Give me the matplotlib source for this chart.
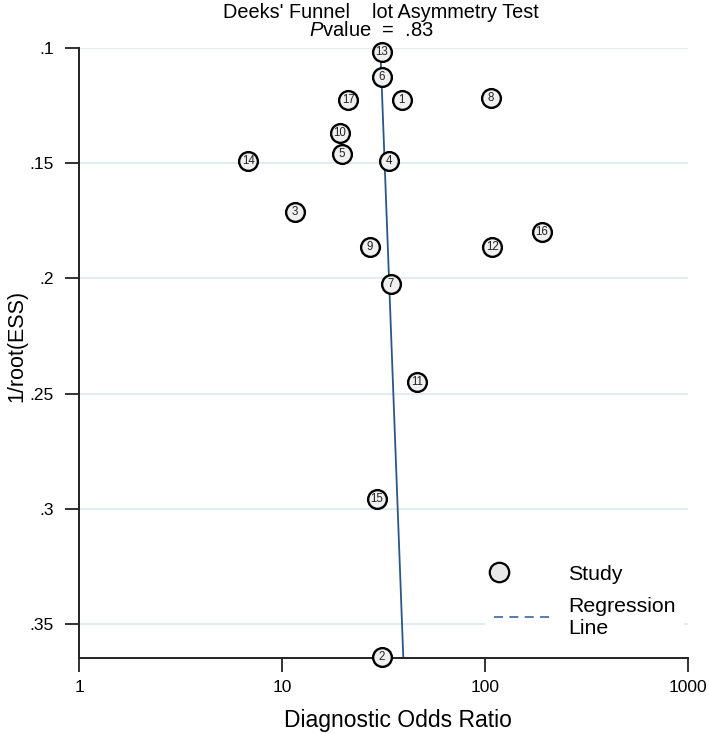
import numpy as np
import matplotlib
matplotlib.use("Agg")
import matplotlib.pyplot as plt
from matplotlib.lines import Line2D
from matplotlib.legend_handler import HandlerLine2D
from matplotlib.ticker import FixedLocator, FixedFormatter

plt.rcParams['font.family'] = ['Liberation Sans', 'DejaVu Sans']
plt.rcParams['mathtext.fontset'] = 'custom'
plt.rcParams['mathtext.rm'] = 'Liberation Sans'
plt.rcParams['mathtext.it'] = 'Liberation Sans:italic'

# study data
study_ids = [1, 2, 3, 4, 5, 6, 7, 8, 9, 10, 11, 12, 13, 14, 15, 16, 17]
dor = [38.9, 31.0, 11.6, 33.8, 19.7, 31.0, 34.3, 106.7, 27.1, 19.2,
       46.1, 108.6, 31.0, 6.82, 29.3, 190.0, 21.2]
inv_root_ess = [0.1225, 0.3644, 0.171, 0.1489, 0.146, 0.1124, 0.2025, 0.1218,
                0.1862, 0.137, 0.2451, 0.1862, 0.1016, 0.149, 0.2957, 0.1797,
                0.1225]

# regression: ln(DOR) = a + b * 1/root(ESS)
reg_a = 3.319
reg_b = 0.986
p_value = ".83"

xticks = [1, 10, 100, 1000]
xtick_labels = ["1", "10", "100", "1000"]
yticks = [0.1, 0.15, 0.2, 0.25, 0.3, 0.35]
ytick_labels = [".1", ".15", ".2", ".25", ".3", ".35"]


class LeftMarker(HandlerLine2D):
    """ marker drawn near left end of handle, like the stata legend """
    def get_xdata(self, legend, xdescent, ydescent, width, height, fontsize):
        xm = -xdescent + 0.1 * width
        return np.array([xm - 1, xm + 1]), np.array([xm])


W, H = 709, 734
fig = plt.figure(figsize=(W / 100, H / 100), dpi=100)
ax = fig.add_axes([79 / W, 1 - 658 / H, (688 - 79) / W, (658 - 48) / H])

ax.set_xscale('log')
ax.set_xlim(1, 1000)
ax.set_ylim(0.3647, 0.1)

yy = np.linspace(min(inv_root_ess), max(inv_root_ess), 50)
ax.plot(np.exp(reg_a + reg_b * yy), yy, color='#2a5788', lw=1.3, zorder=2)

ax.plot(dor, inv_root_ess, 'o', ms=13.5, mfc='#f0f0f0', mec='black', mew=1.7,
        ls='none', zorder=3, clip_on=False)
for sid, x, y in zip(study_ids, dor, inv_root_ess):
    ax.text(x, y, str(sid), ha='center', va='center', fontsize=8.3,
            color='#222222', zorder=4, clip_on=False)

ax.xaxis.set_major_locator(FixedLocator(xticks))
ax.xaxis.set_major_formatter(FixedFormatter(xtick_labels))
ax.xaxis.set_minor_locator(FixedLocator([]))
ax.yaxis.set_major_locator(FixedLocator(yticks))
ax.yaxis.set_major_formatter(FixedFormatter(ytick_labels))

ax.tick_params(axis='both', direction='out', length=10, width=1.3,
               labelsize=12.5, color='#222222')
ax.tick_params(axis='x', pad=6)
ax.tick_params(axis='y', pad=8)

for s in ['top', 'right']:
    ax.spines[s].set_visible(False)
for s in ['left', 'bottom']:
    ax.spines[s].set_linewidth(1.4)
    ax.spines[s].set_color('#222222')

ax.yaxis.grid(True, color='#e2ebee', lw=1.5)
ax.set_axisbelow(True)

fig.text(381 / W, 1 - 12 / H, "Deeks' Funnel    lot Asymmetry Test",
         ha='center', va='center', fontsize=14.3)
fig.text(371 / W, 1 - 30 / H, r"$P$value  =  " + p_value,
         ha='center', va='center', fontsize=14.5)
fig.text(398 / W, 1 - 720 / H, "Diagnostic Odds Ratio",
         ha='center', va='center', fontsize=16.5)
fig.text(17 / W, 1 - 346 / H, "1/root(ESS)", rotation=90,
         ha='center', va='center', fontsize=15.5)

h_study = Line2D([], [], ls='none', marker='o', ms=14, mfc='#e8e8e8',
                 mec='black', mew=1.6)
h_reg = Line2D([], [], ls=(0, (5, 3.5)), color='#4a72a8', lw=1.3)
leg = fig.legend([h_study, h_reg], ["Study", "Regression\nLine"],
                 loc='upper left', bbox_to_anchor=(485 / W, 1 - 556 / H),
                 borderaxespad=0, fontsize=15.3, handlelength=2.7,
                 handletextpad=0.8, labelspacing=0.62, frameon=True,
                 handler_map={h_study: LeftMarker()})
leg.get_frame().set_edgecolor('none')
leg.get_frame().set_facecolor('white')
leg.get_frame().set_alpha(1)

fig.savefig("out.png", dpi=100)
